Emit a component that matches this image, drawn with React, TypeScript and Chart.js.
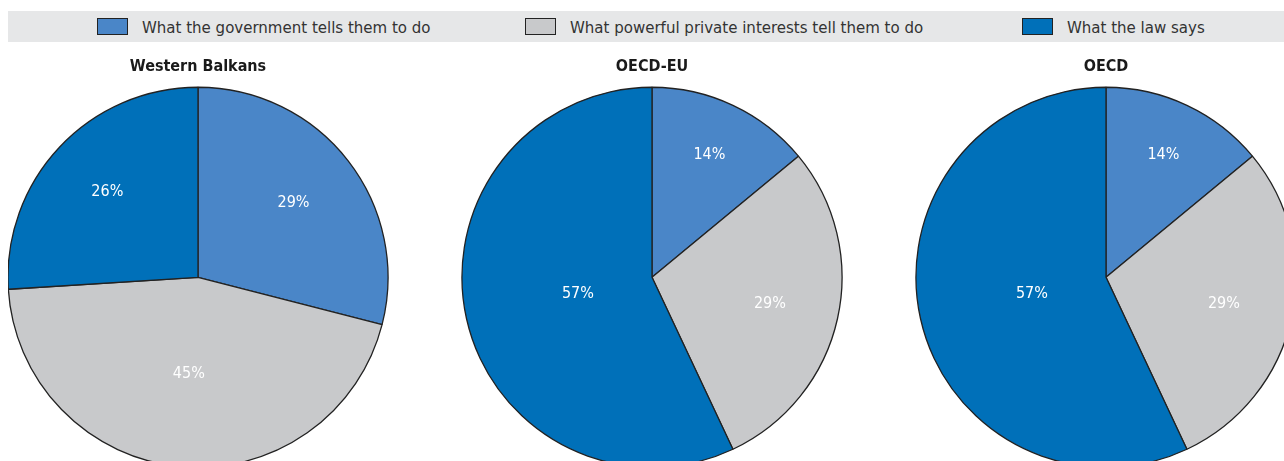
import React, { useEffect, useRef } from "react";
import { Chart, registerables } from "chart.js";

Chart.register(...registerables);

const categories = [
  "What the government tells them to do",
  "What powerful private interests tell them to do",
  "What the law says",
];
const panelTitles = ["Western Balkans", "OECD-EU", "OECD"];
const westernBalkans = [29, 45, 26];
const oecdEu = [14, 29, 57];
const oecd = [14, 29, 57];
const panelValues = [westernBalkans, oecdEu, oecd];

const colors = ["#4a86c8", "#c8c9cb", "#0070b9"];
const FONT = '"Liberation Sans Narrow", "DejaVu Sans Condensed", "Roboto", sans-serif';

const labelPlugin = {
  id: "sliceLabels",
  afterDatasetsDraw(chart: any) {
    const ctx = chart.ctx;
    const meta = chart.getDatasetMeta(0);
    const data = chart.data.datasets[0].data;
    ctx.save();
    ctx.fillStyle = "#ffffff";
    ctx.font = `16px ${FONT}`;
    ctx.textAlign = "center";
    ctx.textBaseline = "middle";
    meta.data.forEach((arc: any, i: number) => {
      const p = arc.getProps(["x", "y", "startAngle", "endAngle", "outerRadius"], true);
      const half = (p.endAngle - p.startAngle) / 2;
      const mid = (p.startAngle + p.endAngle) / 2;
      const d = ((2 * p.outerRadius * Math.sin(half)) / (3 * half)) * 1.1;
      ctx.fillText(`${data[i]}%`, p.x + Math.cos(mid) * d, p.y + Math.sin(mid) * d);
    });
    ctx.restore();
  },
};

function Pie({ title, values, left }: { title: string; values: number[]; left: number }) {
  const ref = useRef<HTMLCanvasElement>(null);
  useEffect(() => {
    const chart = new Chart(ref.current!, {
      type: "pie",
      data: {
        labels: categories,
        datasets: [
          {
            data: values,
            backgroundColor: colors,
            borderColor: "#222222",
            borderWidth: 1.3,
          },
        ],
      },
      options: {
        animation: false,
        responsive: false,
        maintainAspectRatio: false,
        layout: { padding: 0 },
        plugins: {
          legend: { display: false },
          tooltip: { enabled: false },
          title: {
            display: true,
            text: title,
            color: "#1a1a1a",
            font: { family: FONT, size: 16, weight: "bold", lineHeight: 1.2 },
            padding: { top: 0, bottom: 10.4 },
          },
        },
      },
      plugins: [labelPlugin],
    });
    return () => chart.destroy();
  }, [title, values]);
  return (
    <canvas
      ref={ref}
      width={384}
      height={411}
      style={{ position: "absolute", left, top: 49, width: 384, height: 411 }}
    />
  );
}

export default function App() {
  const centers = [190, 644, 1098];
  const legendLefts = [89, 517, 1014];
  return (
    <div
      style={{
        position: "fixed",
        left: 8,
        top: 8,
        width: 1276,
        height: 453,
        overflow: "hidden",
        fontFamily: FONT,
      }}
    >
      <div
        style={{
          position: "absolute",
          left: 0,
          top: 3,
          width: 1276,
          height: 31,
          background: "#e6e7e8",
        }}
      >
        {categories.map((c, i) => (
          <div
            key={c}
            style={{
              position: "absolute",
              left: legendLefts[i],
              top: 0,
              height: 31,
              display: "flex",
              alignItems: "center",
              whiteSpace: "nowrap",
            }}
          >
            <span
              style={{
                display: "inline-block",
                width: 29,
                height: 15,
                background: colors[i],
                border: "1.3px solid #222",
                marginRight: 14,
              }}
            />
            <span style={{ fontSize: 16.7, color: "#333" }}>{c}</span>
          </div>
        ))}
      </div>
      {panelTitles.map((t, i) => (
        <Pie key={t} title={t} values={panelValues[i]} left={centers[i] - 192} />
      ))}
    </div>
  );
}
